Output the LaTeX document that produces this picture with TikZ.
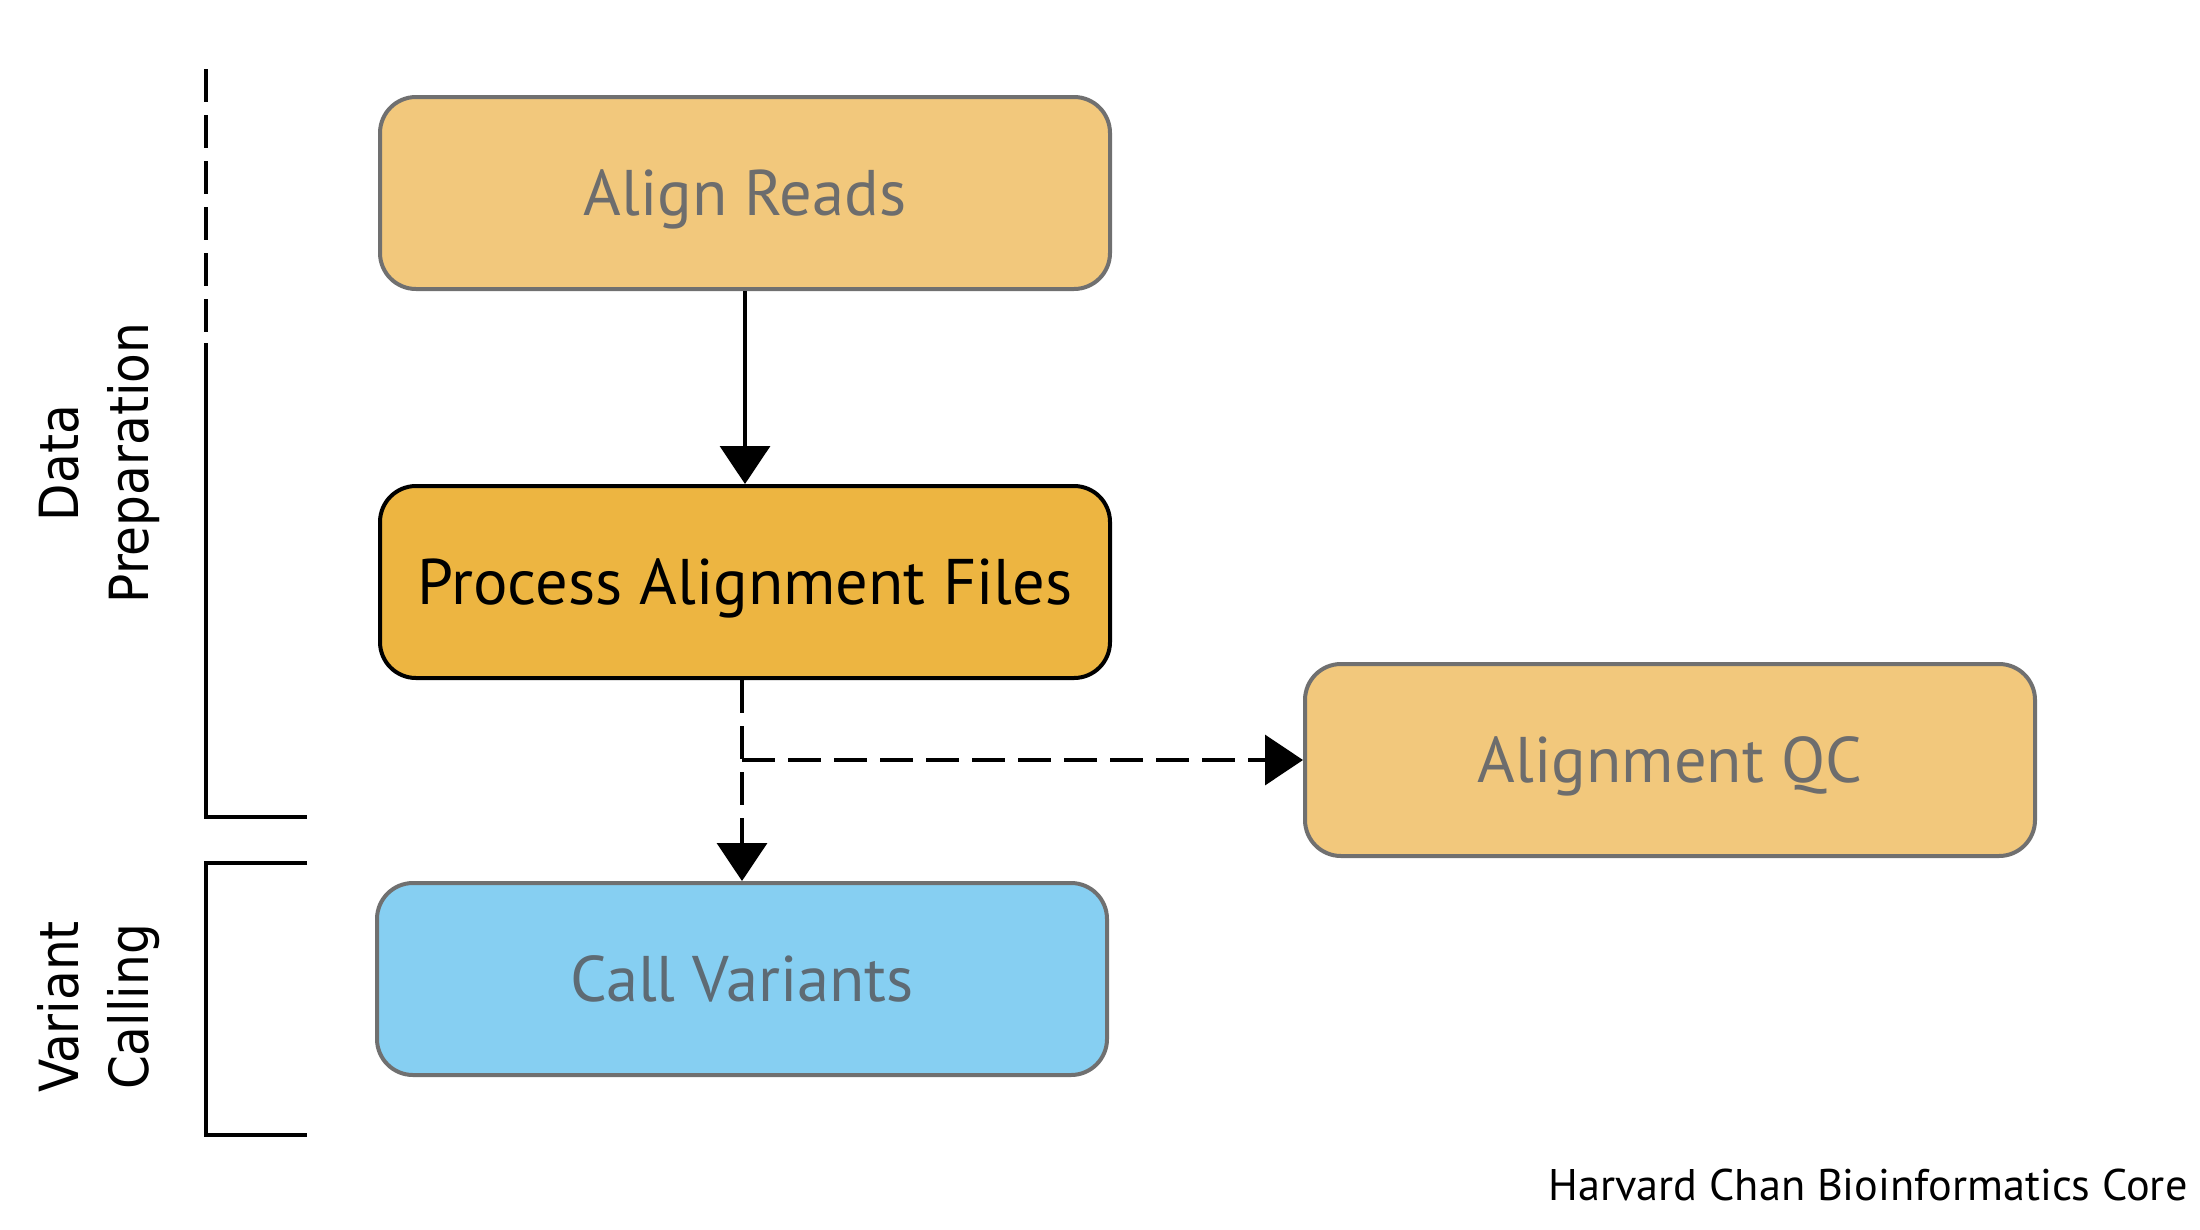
\documentclass[tikz,border=0pt]{standalone}
\usepackage{fontspec}
\setmainfont{PT Sans}
\newfontfamily\labfont{DejaVu Sans Condensed}
\usetikzlibrary{arrows.meta}
\definecolor{lightor}{HTML}{F2C87C}
\definecolor{darkor}{HTML}{EDB541}
\definecolor{skyb}{HTML}{86CFF2}
\definecolor{bordgray}{HTML}{707070}
\definecolor{txtgray}{HTML}{6D6D6D}
\definecolor{txtblue}{HTML}{5E6B74}
\begin{document}
\begin{tikzpicture}[x=1pt,y=-1pt,
  stepbox/.style={rounded corners=36pt, minimum width=730pt, minimum height=192pt,
    inner sep=0pt, line width=4pt, text height=45pt, text depth=0pt,
    font=\fontsize{64.5}{76}\selectfont},
  flow/.style={line width=3.5pt, -{Triangle[length=38pt,width=50pt]}},
  dflow/.style={flow, dash pattern=on 33pt off 13pt},
  brk/.style={line width=4pt},
  sidelab/.style={rotate=90, align=center, font=\labfont\fontsize{54}{70}\selectfont}
]
\useasboundingbox (0,0) rectangle (2200,1229);
\node[stepbox, fill=lightor, draw=bordgray, text=txtgray] (ar) at (745,193) {Align Reads};
\node[stepbox, fill=darkor, draw=black, text=black] (pa) at (745,582) {Process Alignment Files};
\node[stepbox, fill=lightor, draw=bordgray, text=txtgray] (qc) at (1670,760) {Alignment QC};
\node[stepbox, fill=skyb, draw=bordgray, text=txtblue] (cv) at (742,979) {Call Variants};

\draw[flow] (ar.south) -- (ar.south |- pa.north);
\draw[dflow] (cv.north |- pa.south) -- (cv.north);
\coordinate (br) at (cv.north |- qc.west);
\draw[dflow] (br) -- (qc.west);

% brackets
\coordinate (d0) at (206,69);
\coordinate (d1) at (206,332);
\coordinate (d2) at (206,343);
\coordinate (d3) at (206,817);
\coordinate (d4) at (307,817);
\draw[brk, dash pattern=on 33pt off 13pt] (d0) -- (d1);
\draw[brk] (d2) -- (d3) -- (d4);
\coordinate (v0) at (307,863);
\coordinate (v1) at (206,863);
\coordinate (v2) at (206,1135);
\coordinate (v3) at (307,1135);
\draw[brk] (v0) -- (v1) -- (v2) -- (v3);

\node[sidelab] (dp) at (99,463) {Data\\Preparation};
\node[sidelab] (vc) at (99,1007) {Variant\\Calling};

\node[anchor=base east, font=\fontsize{44.3}{52}\selectfont] (hc) at (2191,1200) {Harvard Chan Bioinformatics Core};
\end{tikzpicture}
\end{document}
